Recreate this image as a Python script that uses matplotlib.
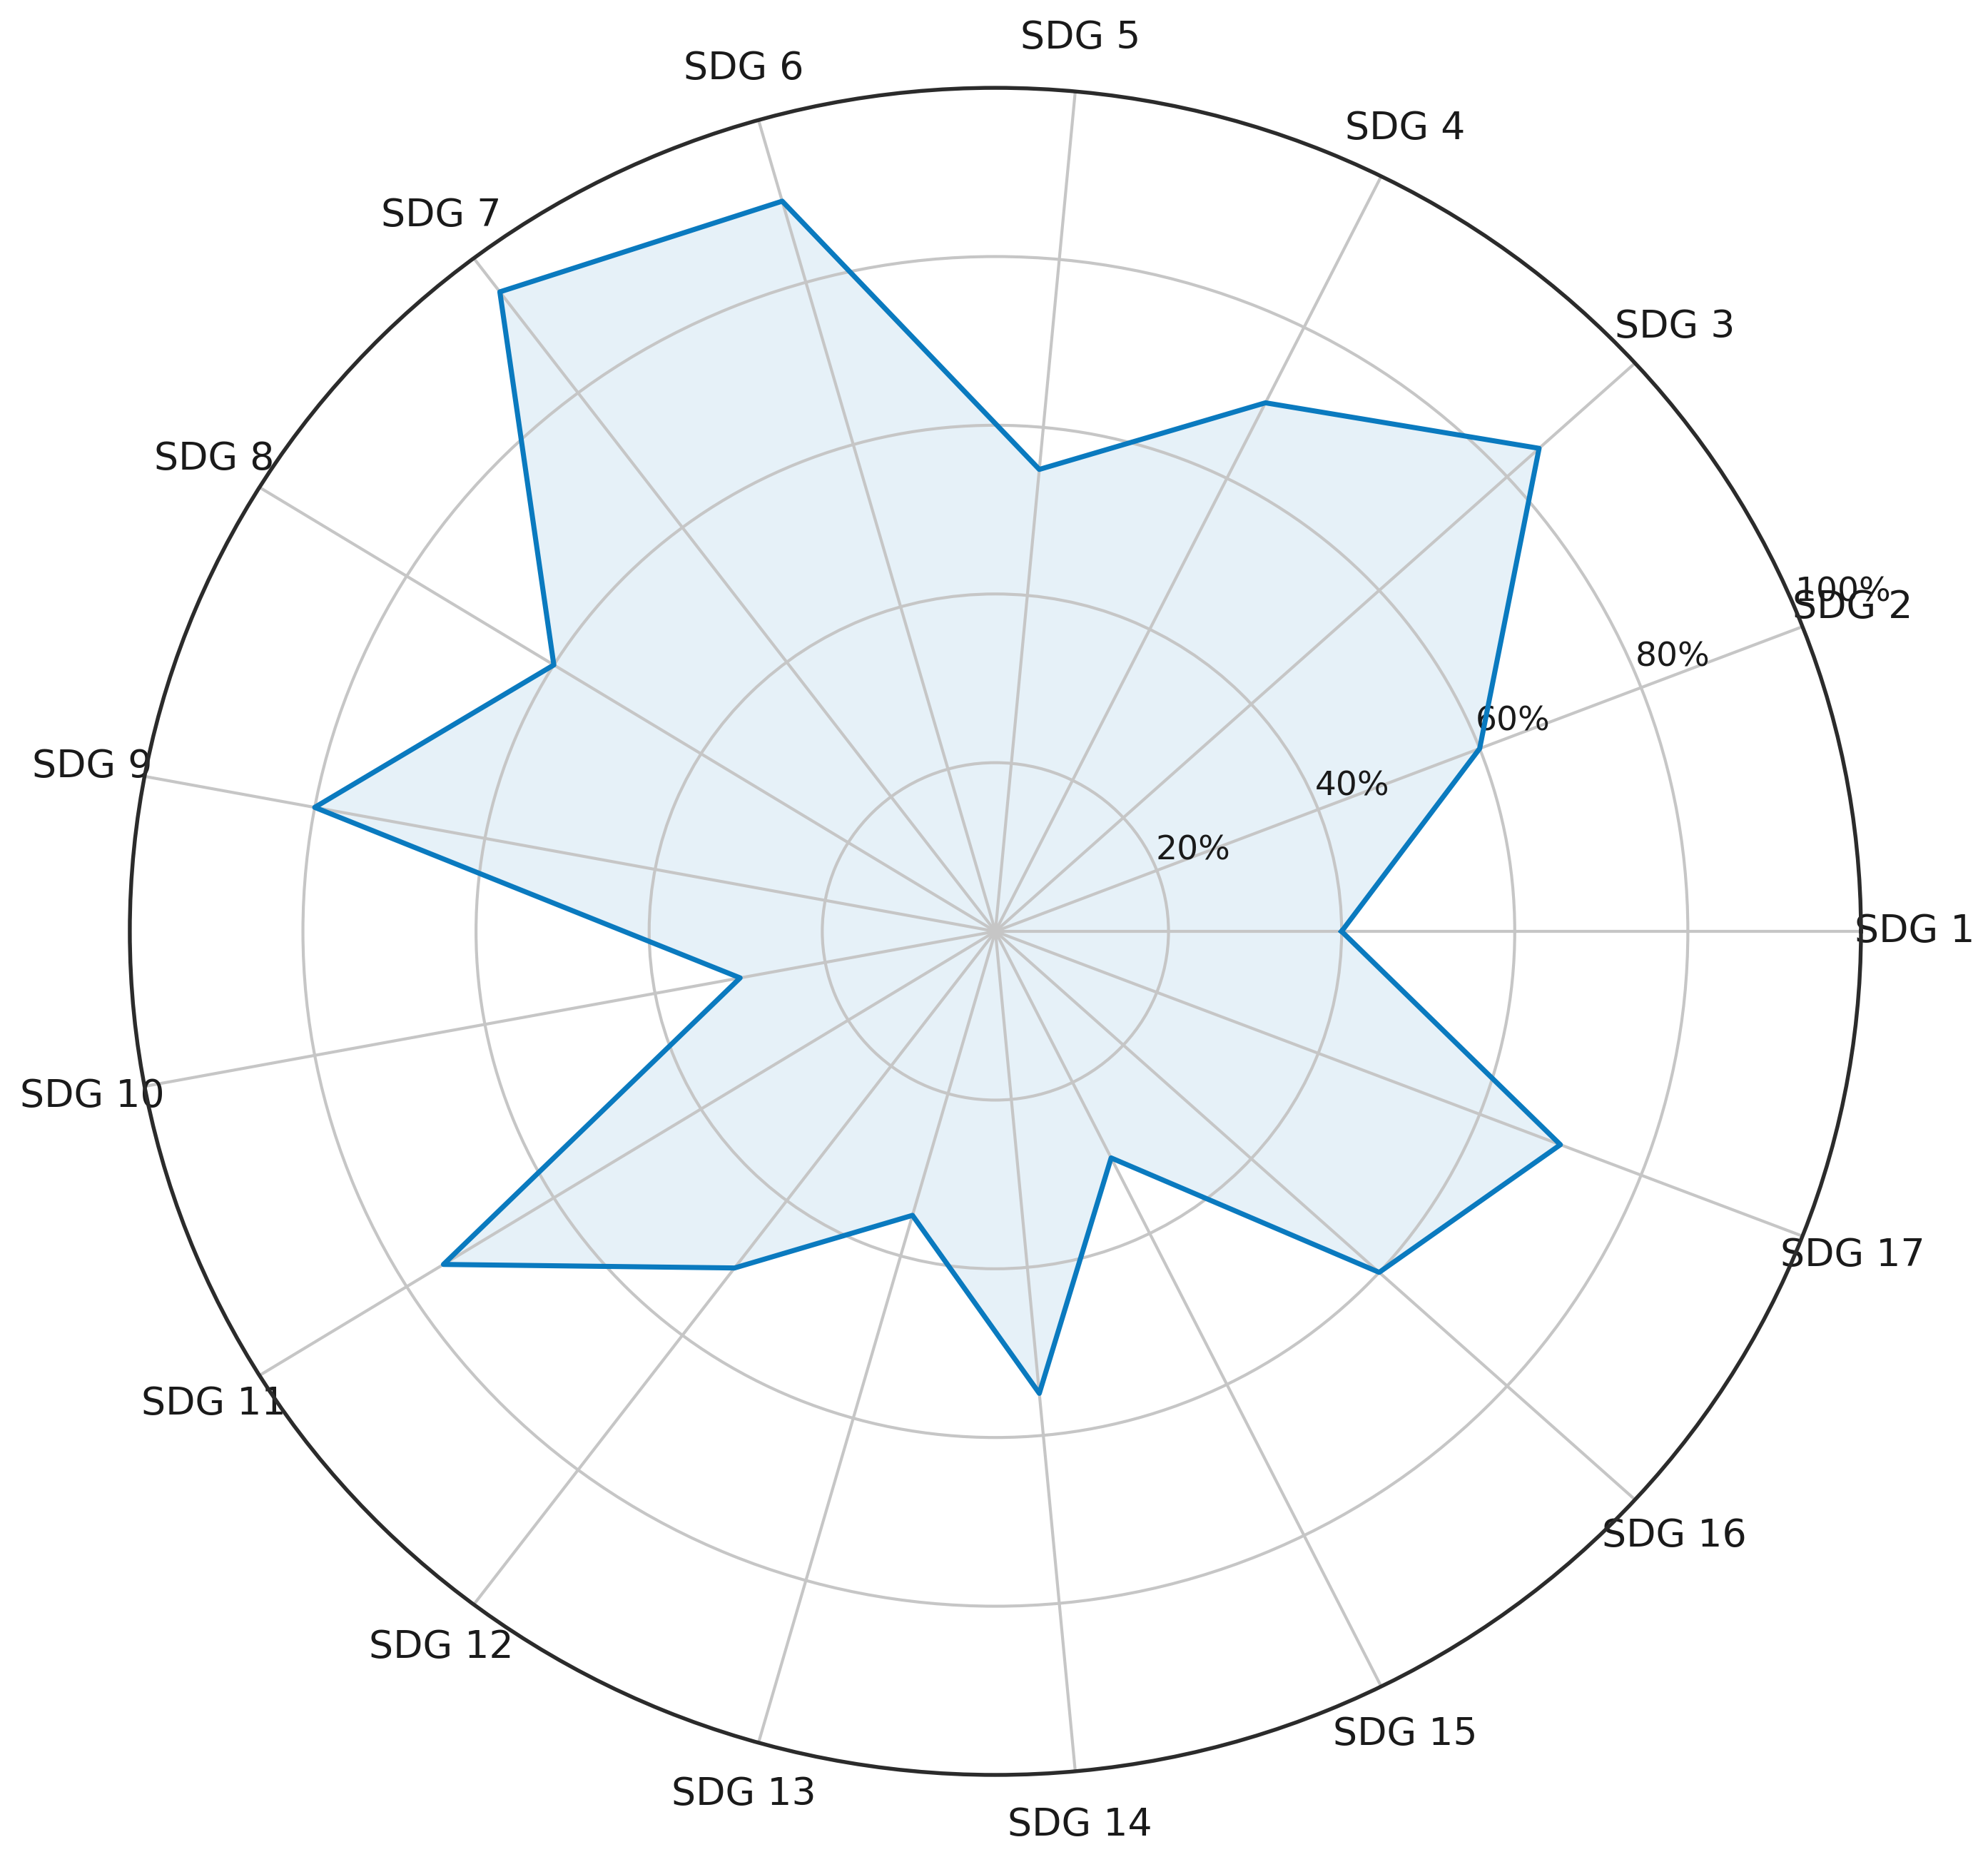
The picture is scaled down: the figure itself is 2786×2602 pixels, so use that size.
import numpy as np
import matplotlib.pyplot as plt

# SDG coverage scores
sdg_labels = [f"SDG {i}" for i in range(1, 18)]
sdg_scores = [0.40, 0.60, 0.85, 0.70, 0.55, 0.90, 0.95, 0.60, 0.80,
              0.30, 0.75, 0.50, 0.35, 0.55, 0.30, 0.60, 0.70]
r_ticks = [0.2, 0.4, 0.6, 0.8, 1.0]
r_ticklabels = ["20%", "40%", "60%", "80%", "100%"]

line_color = "#0a7abf"

angles = np.linspace(0, 2 * np.pi, len(sdg_labels), endpoint=False)
closed_angles = np.append(angles, angles[0])
closed_scores = np.append(sdg_scores, sdg_scores[0])

fig = plt.figure(figsize=(2786 / 300, 2602 / 300), dpi=300)
ax = fig.add_axes([0.0653, 0.0442, 0.8708, 0.9085], projection="polar")
# reference is slightly stretched horizontally, so let the circle become an ellipse
ax.set_aspect("auto")

ax.fill(closed_angles, closed_scores, color=line_color, alpha=0.1, linewidth=0)
ax.plot(closed_angles, closed_scores, color=line_color, linewidth=1.7)

ax.set_xticks(angles)
ax.set_xticklabels(sdg_labels, fontsize=12.9, color="#1a1a1a")
ax.tick_params(axis="x", pad=7.5)
ax.set_ylim(0, 1)
ax.set_yticks(r_ticks)
ax.set_yticklabels(r_ticklabels, fontsize=11.3, color="#1a1a1a")
ax.set_rlabel_position(22.5)

ax.grid(color="#c6c6c6", linewidth=1.0)
ax.spines["polar"].set_color("#2b2b2b")
ax.spines["polar"].set_linewidth(1.3)

fig.savefig("out.png", dpi=300, facecolor="white")
